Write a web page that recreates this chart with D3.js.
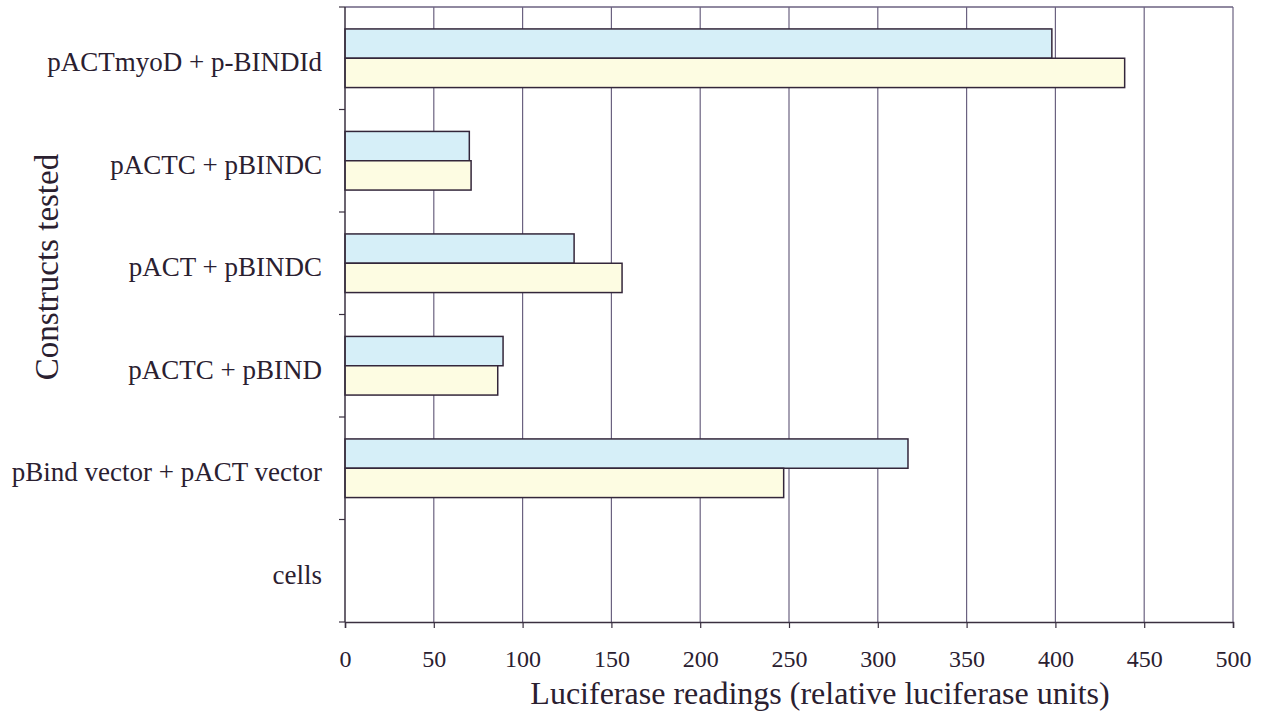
<!DOCTYPE html>
<html>
<head>
<meta charset="utf-8">
<script src="https://cdn.jsdelivr.net/npm/d3@7"></script>
<style>
  html, body { margin: 0; padding: 0; background: #ffffff; }
  svg { display: block; }
</style>
</head>
<body>
<svg id="chart" width="1263" height="722"></svg>
<script>
const categories = ["pACTmyoD + p-BINDId", "pACTC + pBINDC", "pACT + pBINDC", "pACTC + pBIND", "pBind vector + pACT vector", "cells"];
const seriesNames = ["reading 1", "reading 2"];
const series1 = [398, 70, 129, 89, 317, 0];
const series2 = [439, 71, 156, 86, 247, 0];
const xTicks = [0, 50, 100, 150, 200, 250, 300, 350, 400, 450, 500];
const xTitle = "Luciferase readings (relative luciferase units)";
const yTitle = "Constructs tested";
const colors = ["#d6eff8", "#fdfce2"];
const FONT = "Liberation Serif";
const INK = "#2a2030";

const svg = d3.select("#chart");
const pLeft = 345, pRight = 1233, pTop = 7, pBottom = 622;

const x = d3.scaleLinear().domain([0, 500]).range([pLeft, pRight]);
const y = d3.scaleBand().domain(categories).range([pTop, pBottom]).paddingInner(0.428).paddingOuter(0.214);
const ySub = d3.scaleBand().domain(seriesNames).range([0, y.bandwidth()]);
const yOuter = d3.scaleBand().domain(categories).range([pTop, pBottom]);

// gridlines
svg.append("g").selectAll("line").data(xTicks.slice(1)).join("line")
  .attr("x1", d => x(d)).attr("x2", d => x(d))
  .attr("y1", pTop).attr("y2", pBottom)
  .attr("stroke", "#6b6280").attr("stroke-width", 1.2);

// top border
svg.append("line").attr("x1", pLeft).attr("x2", pRight).attr("y1", pTop).attr("y2", pTop)
  .attr("stroke", "#6b6280").attr("stroke-width", 1.4);

// bars
const rows = categories.map((c, i) => ({ c, vals: [series1[i], series2[i]] }));
const g = svg.append("g");
rows.forEach(r => {
  r.vals.forEach((v, j) => {
    if (v <= 0) return;
    g.append("rect")
      .attr("x", x(0))
      .attr("y", y(r.c) + ySub(seriesNames[j]))
      .attr("width", x(v) - x(0))
      .attr("height", ySub.bandwidth())
      .attr("fill", colors[j])
      .attr("stroke", "#33263a")
      .attr("stroke-width", 1.5);
  });
});

// x axis
const xAxis = d3.axisBottom(x).tickValues(xTicks).tickSize(6).tickPadding(22).tickFormat(d3.format("d"));
const xg = svg.append("g").attr("transform", `translate(0,${pBottom})`).call(xAxis);
xg.attr("font-family", null);
xg.select(".domain").attr("stroke", "#3a3040").attr("stroke-width", 1.5);
xg.selectAll(".tick line").attr("stroke", "#3a3040").attr("stroke-width", 1.2);
xg.selectAll(".tick text").style("font-family", FONT).style("font-size", "24px").attr("fill", INK);

// y axis line and ticks at category boundaries
svg.append("line").attr("x1", pLeft).attr("x2", pLeft).attr("y1", pTop).attr("y2", pBottom)
  .attr("stroke", "#3a3040").attr("stroke-width", 1.5);
const boundaries = categories.map(c => yOuter(c)).concat([pBottom]);
svg.append("g").selectAll("line").data(boundaries).join("line")
  .attr("x1", pLeft - 6).attr("x2", pLeft)
  .attr("y1", d => d).attr("y2", d => d)
  .attr("stroke", "#3a3040").attr("stroke-width", 1.2);

// category labels
svg.append("g").selectAll("text").data(categories).join("text")
  .attr("x", 322)
  .attr("y", d => yOuter(d) + yOuter.bandwidth() / 2)
  .attr("dy", "0.48em")
  .attr("text-anchor", "end")
  .attr("fill", INK)
  .style("font-family", FONT).style("font-size", "27px")
  .text(d => d);

// axis titles
svg.append("text").attr("x", 820).attr("y", 704).attr("text-anchor", "middle").attr("fill", INK)
  .style("font-family", FONT).style("font-size", "32px").text(xTitle);
svg.append("text").attr("transform", "translate(58,267) rotate(-90)").attr("text-anchor", "middle").attr("fill", INK)
  .style("font-family", FONT).style("font-size", "33px").text(yTitle);
</script>
</body>
</html>
